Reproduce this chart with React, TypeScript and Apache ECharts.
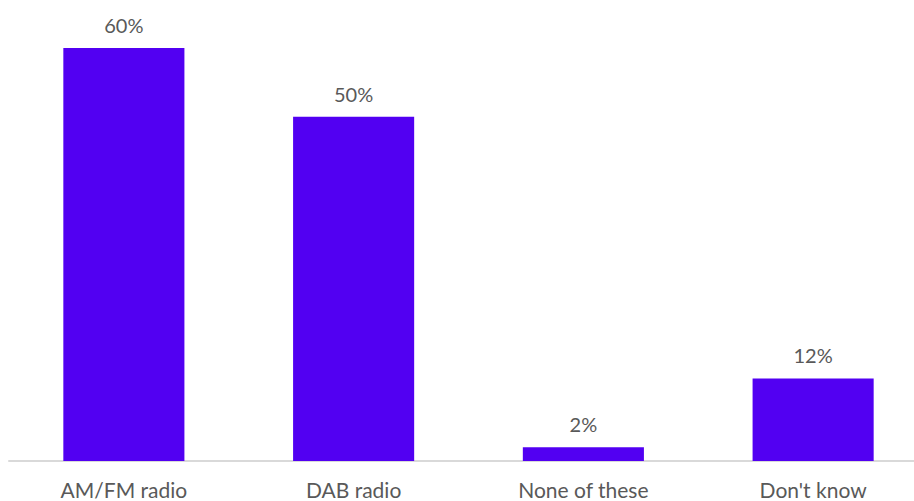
import React, { useEffect, useRef } from "react";
import * as echarts from "echarts";

const categories = ["AM/FM radio", "DAB radio", "None of these", "Don't know"];
const values = [60, 50, 2, 12];

export default function App() {
  const ref = useRef<HTMLDivElement>(null);
  useEffect(() => {
    if (!ref.current) return;
    const chart = echarts.init(ref.current, null, { renderer: "svg" });
    chart.setOption({
      animation: false,
      grid: { left: 9, right: 0, top: 48, bottom: 40, containLabel: false },
      xAxis: {
        type: "category",
        data: categories,
        axisLine: { show: true, lineStyle: { color: "#d9d9d9", width: 2 } },
        axisTick: { show: false },
        axisLabel: {
          color: "#595959",
          fontFamily: "Lato",
          fontSize: 21,
          margin: 18,
          interval: 0,
        },
      },
      yAxis: {
        type: "value",
        min: 0,
        max: 60,
        show: false,
        splitLine: { show: false },
      },
      series: [
        {
          type: "bar",
          data: values,
          barWidth: "52.7%",
          itemStyle: { color: "#5200F2" },
          label: {
            show: true,
            position: "top",
            distance: 13,
            formatter: "{c}%",
            color: "#595959",
            fontFamily: "Lato",
            fontSize: 20,
          },
        },
      ],
    });
    return () => chart.dispose();
  }, []);
  return (
    <div
      style={{
        position: "absolute",
        left: 0,
        top: 0,
        width: 914,
        height: 501,
        overflow: "hidden",
      }}
    >
      <div ref={ref} style={{ width: 928, height: 501 }} />
    </div>
  );
}
